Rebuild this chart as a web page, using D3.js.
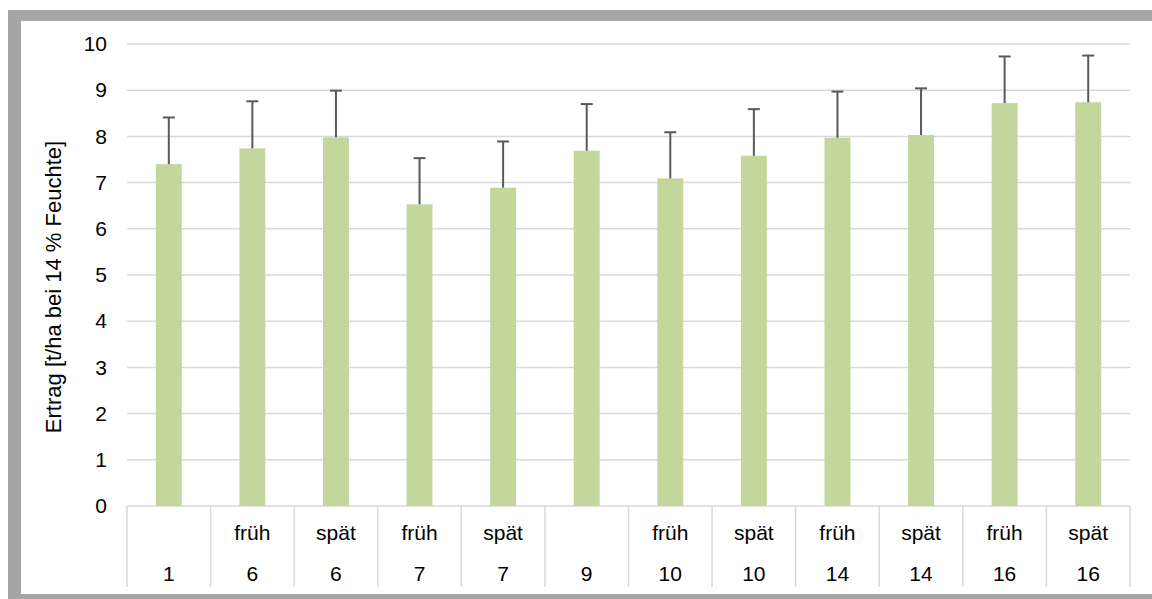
<!DOCTYPE html>
<html>
<head>
<meta charset="utf-8">
<script src="https://cdn.jsdelivr.net/npm/d3@7"></script>
<style>
  html, body { margin: 0; padding: 0; background: #fff; }
  svg { display: block; font-family: Arial, "Liberation Sans", sans-serif; }
</style>
</head>
<body>
<svg id="chart" width="1152" height="599"></svg>
<script>
// chart data
const groups = ['1', '6', '6', '7', '7', '9', '10', '10', '14', '14', '16', '16'];
const timing = ['', 'früh', 'spät', 'früh', 'spät', '', 'früh', 'spät', 'früh', 'spät', 'früh', 'spät'];
const yieldMean = [7.40, 7.74, 7.98, 6.53, 6.89, 7.69, 7.09, 7.58, 7.97, 8.03, 8.72, 8.74];
const yieldErr = [1.01, 1.02, 1.01, 1.00, 1.00, 1.01, 1.00, 1.01, 1.00, 1.01, 1.01, 1.01];
const yTicks = [0, 1, 2, 3, 4, 5, 6, 7, 8, 9, 10];
const yTitle = 'Ertrag [t/ha bei 14 % Feuchte]';

const rows = groups.map((g, i) => ({ key: i, group: g, timing: timing[i], mean: yieldMean[i], err: yieldErr[i] }));

const svg = d3.select('#chart');
const W = 1152, H = 599;
const FONT = 'Arial, "Liberation Sans", sans-serif';

// outer frame (only left, top and bottom edges are visible)
svg.append('rect').attr('x', 8).attr('y', 10).attr('width', W).attr('height', H)
  .attr('fill', '#a6a6a6');
svg.append('rect').attr('x', 21).attr('y', 21).attr('width', W).attr('height', 573)
  .attr('fill', '#fff');

const plot = { left: 127, right: 1130, top: 44, bottom: 506 };

const x = d3.scaleBand()
  .domain(rows.map(d => d.key))
  .range([plot.left, plot.right])
  .paddingInner(0)
  .paddingOuter(0);

const y = d3.scaleLinear()
  .domain([0, 10])
  .range([plot.bottom, plot.top]);

const barW = x.step() * 0.31;

// gridlines
svg.append('g')
  .selectAll('line')
  .data(yTicks)
  .join('line')
  .attr('x1', plot.left)
  .attr('x2', plot.right)
  .attr('y1', d => y(d))
  .attr('y2', d => y(d))
  .attr('stroke', '#d9d9d9')
  .attr('stroke-width', 1.5);

// y tick labels
const yAxis = svg.append('g')
  .attr('transform', `translate(${plot.left},0)`)
  .call(d3.axisLeft(y).tickValues(yTicks).tickSize(0).tickPadding(20));
yAxis.select('.domain').remove();
yAxis.attr('font-size', 21).attr('font-family', FONT);
yAxis.selectAll('text')
  .attr('fill', '#000');

// y title
svg.append('text')
  .attr('transform', `translate(53,${(plot.top + plot.bottom) / 2 + 12}) rotate(-90)`)
  .attr('text-anchor', 'middle')
  .attr('dominant-baseline', 'central')
  .attr('font-size', 22)
  .attr('fill', '#000')
  .text(yTitle);

// bars
svg.append('g')
  .selectAll('rect')
  .data(rows)
  .join('rect')
  .attr('x', d => x(d.key) + (x.bandwidth() - barW) / 2)
  .attr('y', d => y(d.mean))
  .attr('width', barW)
  .attr('height', d => y(0) - y(d.mean))
  .attr('fill', '#c3d69b');

// error bars (upper only)
const eb = svg.append('g')
  .selectAll('g')
  .data(rows)
  .join('g')
  .attr('transform', d => `translate(${x(d.key) + x.bandwidth() / 2},0)`);
eb.append('line')
  .attr('y1', d => y(d.mean))
  .attr('y2', d => y(d.mean + d.err))
  .attr('stroke', '#595959')
  .attr('stroke-width', 2);
eb.append('line')
  .attr('x1', -6)
  .attr('x2', 6)
  .attr('y1', d => y(d.mean + d.err))
  .attr('y2', d => y(d.mean + d.err))
  .attr('stroke', '#595959')
  .attr('stroke-width', 2);

// category axis: separators and two label rows
const catAxis = svg.append('g');
const bounds = rows.map(d => x(d.key)).concat([plot.right]);
catAxis.selectAll('line.sep')
  .data(bounds)
  .join('line')
  .attr('class', 'sep')
  .attr('x1', d => d)
  .attr('x2', d => d)
  .attr('y1', plot.bottom)
  .attr('y2', 587)
  .attr('stroke', '#d9d9d9')
  .attr('stroke-width', 1.5);

catAxis.selectAll('text.timing')
  .data(rows)
  .join('text')
  .attr('class', 'timing')
  .attr('x', d => x(d.key) + x.bandwidth() / 2)
  .attr('y', 540)
  .attr('text-anchor', 'middle')
  .attr('font-size', 21)
  .attr('fill', '#000')
  .text(d => d.timing);

catAxis.selectAll('text.group')
  .data(rows)
  .join('text')
  .attr('class', 'group')
  .attr('x', d => x(d.key) + x.bandwidth() / 2)
  .attr('y', 581)
  .attr('text-anchor', 'middle')
  .attr('font-size', 21)
  .attr('fill', '#000')
  .text(d => d.group);
</script>
</body>
</html>
